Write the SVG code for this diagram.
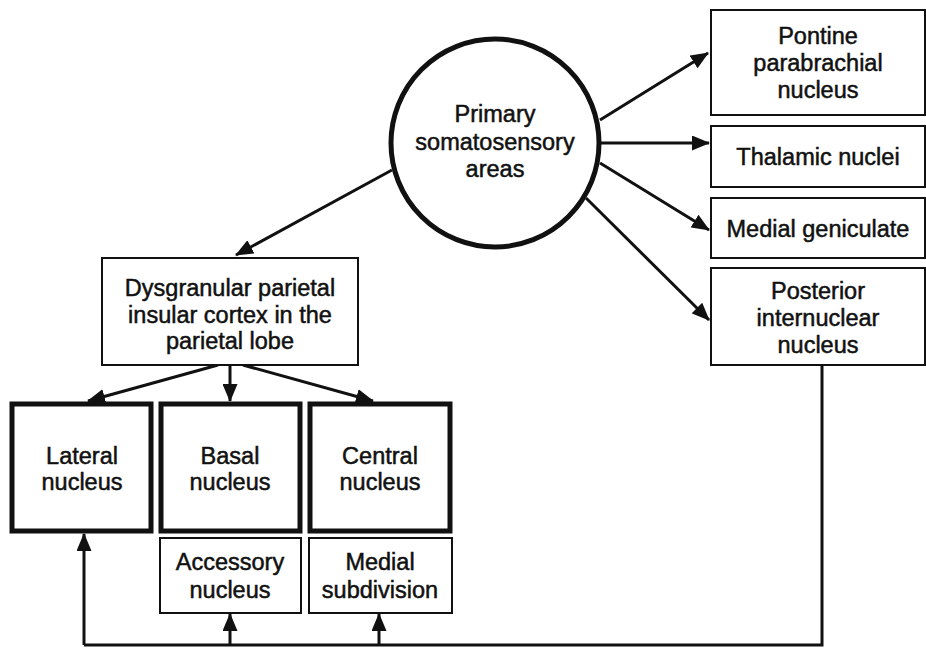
<svg xmlns="http://www.w3.org/2000/svg" width="926" height="648" viewBox="0 0 926 648">
<style>
text{font-family:"Liberation Sans",Arial,sans-serif;font-size:23.5px;fill:#111;text-anchor:middle;stroke:#111;stroke-width:0.5}
.thin{fill:#fff;stroke:#111;stroke-width:2}
.thick{fill:#fff;stroke:#111;stroke-width:5}
.con{fill:none;stroke:#111;stroke-width:3}
</style>
<defs>
<marker id="ah" markerUnits="userSpaceOnUse" markerWidth="18" markerHeight="15" refX="17" refY="7.5" orient="auto">
<path d="M0,0 L18,7.5 L0,15 z" fill="#111"/>
</marker>
</defs>
<rect width="926" height="648" fill="#fff"/>
<g id="connectors">
<line class="con" x1="392" y1="170" x2="236" y2="255" marker-end="url(#ah)"/>
<line class="con" x1="600" y1="120" x2="708" y2="53" marker-end="url(#ah)"/>
<line class="con" x1="600" y1="143" x2="709" y2="143" marker-end="url(#ah)"/>
<line class="con" x1="600" y1="163" x2="709" y2="230" marker-end="url(#ah)"/>
<line class="con" x1="586" y1="198" x2="709" y2="320" marker-end="url(#ah)"/>
<line class="con" x1="218" y1="365" x2="88" y2="401" marker-end="url(#ah)"/>
<line class="con" x1="230" y1="365" x2="230" y2="401" marker-end="url(#ah)"/>
<line class="con" x1="243" y1="365" x2="373" y2="401" marker-end="url(#ah)"/>
<polyline class="con" points="822,365 822,645 84,645"/>
<line class="con" x1="84" y1="645" x2="84" y2="534" marker-end="url(#ah)"/>
<line class="con" x1="230" y1="645" x2="230" y2="614" marker-end="url(#ah)"/>
<line class="con" x1="379" y1="645" x2="379" y2="614" marker-end="url(#ah)"/>
</g>
<g id="primary">
<circle class="thick" cx="495" cy="143" r="104"/>
<text x="495" y="122">Primary</text>
<text x="495" y="150">somatosensory</text>
<text x="495" y="177">areas</text>
</g>
<g id="pontine">
<rect class="thin" x="711" y="10" width="214" height="105"/>
<text x="818" y="44">Pontine</text>
<text x="818" y="71">parabrachial</text>
<text x="818" y="98">nucleus</text>
</g>
<g id="thalamic">
<rect class="thin" x="711" y="126" width="214" height="61"/>
<text x="818" y="165">Thalamic nuclei</text>
</g>
<g id="medialgeniculate">
<rect class="thin" x="711" y="198" width="214" height="60"/>
<text x="818" y="237">Medial geniculate</text>
</g>
<g id="posterior">
<rect class="thin" x="711" y="268" width="214" height="97"/>
<text x="818" y="299">Posterior</text>
<text x="818" y="326">internuclear</text>
<text x="818" y="353">nucleus</text>
</g>
<g id="dysgranular">
<rect class="thin" x="102" y="258" width="256" height="107"/>
<text x="230" y="296">Dysgranular parietal</text>
<text x="230" y="323">insular cortex in the</text>
<text x="230" y="349">parietal lobe</text>
</g>
<g id="lateral">
<rect class="thick" x="12" y="404" width="139" height="127"/>
<text x="82" y="464">Lateral</text>
<text x="82" y="490">nucleus</text>
</g>
<g id="basal">
<rect class="thick" x="161" y="404" width="139" height="127"/>
<text x="230" y="464">Basal</text>
<text x="230" y="490">nucleus</text>
</g>
<g id="central">
<rect class="thick" x="310" y="404" width="140" height="127"/>
<text x="380" y="464">Central</text>
<text x="380" y="490">nucleus</text>
</g>
<g id="accessory">
<rect class="thin" x="160" y="538" width="141" height="75"/>
<text x="230" y="570">Accessory</text>
<text x="230" y="598">nucleus</text>
</g>
<g id="medialsub">
<rect class="thin" x="309" y="538" width="143" height="75"/>
<text x="380" y="570">Medial</text>
<text x="380" y="598">subdivision</text>
</g>
</svg>
